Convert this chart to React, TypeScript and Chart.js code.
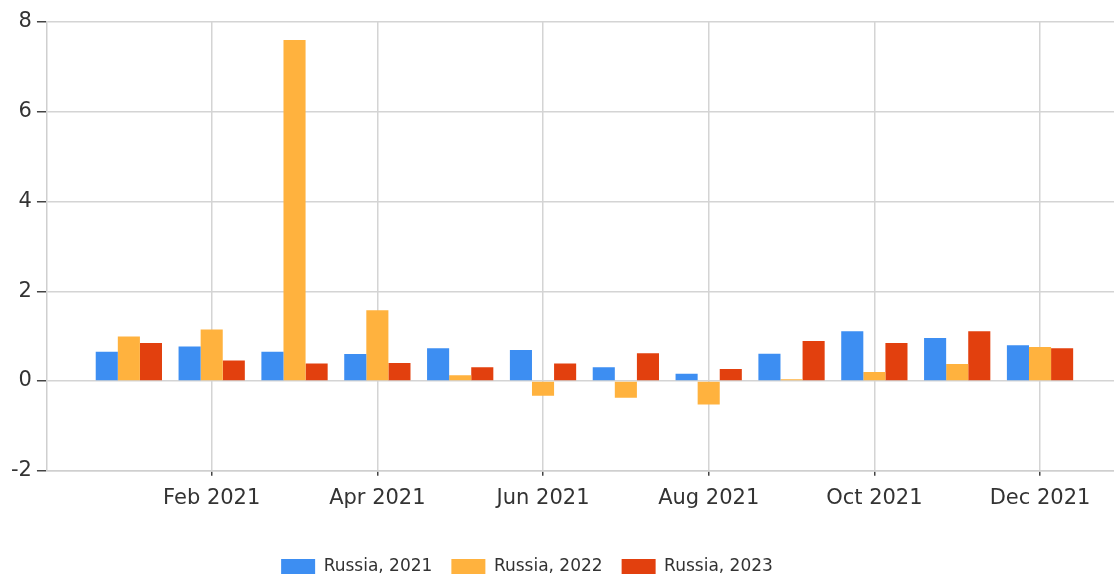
import React, { useEffect, useRef } from "react";
import { Chart, registerables } from "chart.js";

Chart.register(...registerables);

const months = [1, 2, 3, 4, 5, 6, 7, 8, 9, 10, 11, 12];
const tickValues = [2, 4, 6, 8, 10, 12];
const tickLabels = ["Feb 2021", "Apr 2021", "Jun 2021", "Aug 2021", "Oct 2021", "Dec 2021"];
const seriesNames = ["Russia, 2021", "Russia, 2022", "Russia, 2023"];
const russia2021 = [0.65, 0.77, 0.65, 0.6, 0.73, 0.69, 0.31, 0.16, 0.61, 1.11, 0.96, 0.8];
const russia2022 = [0.99, 1.15, 7.6, 1.58, 0.13, -0.33, -0.37, -0.52, 0.04, 0.2, 0.38, 0.76];
const russia2023 = [0.85, 0.46, 0.39, 0.4, 0.31, 0.39, 0.62, 0.27, 0.89, 0.85, 1.11, 0.73];
const colors = ["#3d8ef2", "#ffb23e", "#e2400e"];

const legendShift = {
  id: "legendShift",
  afterLayout(chart: any) {
    const l = chart.legend;
    if (!l) return;
    const dx = -33;
    const dy = 18;
    l.left += dx;
    l.right += dx;
    l.top += dy;
    l.bottom += dy;
  },
};

export default function App() {
  const ref = useRef<HTMLCanvasElement>(null);
  useEffect(() => {
    document.body.style.margin = "0";
    const all = [russia2021, russia2022, russia2023];
    const chart = new Chart(ref.current!, {
      type: "bar",
      data: {
        datasets: all.map((vals, i) => ({
          label: seriesNames[i],
          data: months.map((m, j) => ({ x: m, y: vals[j] })),
          backgroundColor: colors[i],
          borderWidth: 0,
          barPercentage: 1.0,
          categoryPercentage: 0.8,
        })),
      },
      plugins: [legendShift],
      options: {
        animation: false,
        responsive: false,
        maintainAspectRatio: false,
        layout: { padding: { top: 22, left: 6, right: 0, bottom: 12 } },
        plugins: {
          tooltip: { enabled: false },
          legend: {
            position: "bottom",
            labels: {
              boxWidth: 34,
              boxHeight: 15,
              padding: 19,
              color: "#333",
              font: { family: "DejaVu Sans", size: 17 },
            },
          },
        },
        scales: {
          x: {
            type: "linear",
            offset: false,
            min: 0.011,
            max: 12.893,
            afterBuildTicks: (axis: any) => {
              axis.ticks = tickValues.map((v) => ({ value: v }));
            },
            ticks: {
              autoSkip: false,
              maxRotation: 0,
              padding: 10,
              color: "#333",
              font: { family: "DejaVu Sans", size: 21 },
              callback: (v: any) => {
                const idx = tickValues.indexOf(Number(v));
                return idx >= 0 ? tickLabels[idx] : "";
              },
            },
            grid: {
              offset: false,
              color: "#d4d4d4",
              lineWidth: 1.5,
              tickColor: "#444",
              tickLength: 5,
            },
            border: { color: "#cfcfcf", width: 1.5 },
          },
          y: {
            min: -2,
            max: 8,
            ticks: {
              stepSize: 2,
              padding: 5,
              color: "#333",
              font: { family: "DejaVu Sans", size: 21 },
            },
            grid: {
              color: "#d4d4d4",
              lineWidth: 1.5,
              tickColor: "#444",
              tickLength: 10,
            },
            border: { color: "#cfcfcf", width: 1.5 },
          },
        },
      },
    } as any);
    return () => chart.destroy();
  }, []);
  return <canvas ref={ref} width={1114} height={579} style={{ display: "block" }} />;
}
